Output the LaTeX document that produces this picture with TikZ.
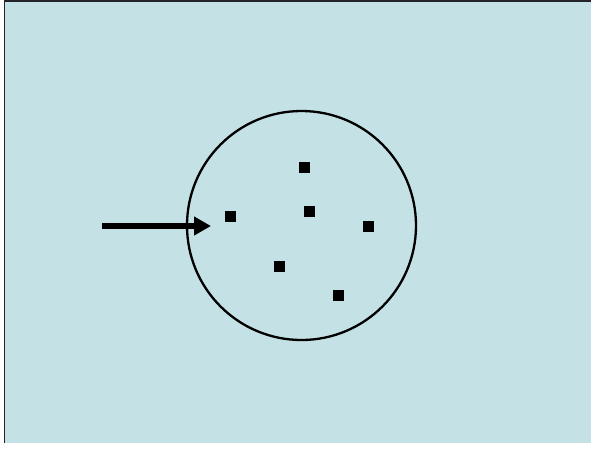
\documentclass[tikz,border=0pt]{standalone}
\usetikzlibrary{arrows.meta}
\definecolor{slidebg}{RGB}{196,226,230}
\definecolor{frameline}{RGB}{35,35,40}
\begin{document}
\begin{tikzpicture}[
    x=1pt,
    y=-1pt,
    line cap=round,
    line join=round,
    point/.style={
        rectangle,
        fill=black,
        inner sep=0pt,
        minimum size=11pt
    },
    boundary/.style={
        circle,
        draw=black,
        line width=2.3pt,
        inner sep=0pt,
        minimum size=229pt
    },
    pointer/.style={
        line width=5.5pt,
        line cap=butt,
        -{Triangle[length=17pt,width=18pt]}
    }
]

% =================================================
% Background of the slide
% =================================================

\useasboundingbox (0,0) rectangle (591,448);
\fill[white] (0,0) rectangle (591,448);
\fill[slidebg] (4,0) rectangle (591,443);
\draw[frameline, line width=1.5pt, line cap=butt]
    (4.5,443)--(4.5,0.75)--(591,0.75);

% =================================================
% Set boundary
% =================================================

\node[boundary] (set) at (301.5,225.5) {};

% =================================================
% Elements of the set
% =================================================

\node[point] (p1) at (304,167) {};
\node[point] (p2) at (230.5,216.5) {};
\node[point] (p3) at (309.5,211.5) {};
\node[point] (p4) at (368,226.5) {};
\node[point] (p5) at (279.5,266) {};
\node[point] (p6) at (338.5,295.5) {};

% =================================================
% Arrow pointing into the set
% =================================================

\coordinate (tail) at (102,226);
\coordinate (tip) at (211,226);

\draw[pointer] (tail)--(tip);

\end{tikzpicture}
\end{document}
